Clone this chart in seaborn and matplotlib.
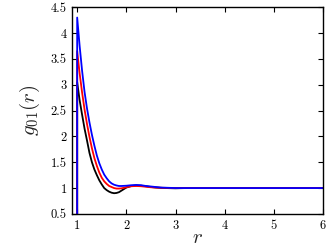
"""
Pair correlation g_01(r) for three cases, redrawn with seaborn
"""

import numpy as np
import pandas as pd
import matplotlib
matplotlib.use('Agg')
import matplotlib.pyplot as plt
import seaborn as sns

# values
r_black = [1.00, 1.00, 1.05, 1.10, 1.15, 1.20, 1.25, 1.30, 1.35, 1.40, 1.45, 1.50,
           1.55, 1.60, 1.65, 1.70, 1.75, 1.80, 1.85, 1.90, 1.95, 2.00, 2.10, 2.20,
           2.30, 2.40, 2.50, 2.60, 2.80, 3.00, 3.20, 6.00]
g_black = [0.00, 3.05, 2.70, 2.42, 2.15, 1.92, 1.68, 1.50, 1.36, 1.25, 1.15, 1.07,
           1.00, 0.96, 0.93, 0.91, 0.90, 0.905, 0.92, 0.95, 0.98, 1.01, 1.04, 1.05,
           1.045, 1.035, 1.02, 1.01, 1.00, 0.995, 1.00, 1.00]

r_red = [1.00, 1.00, 1.05, 1.10, 1.15, 1.20, 1.25, 1.30, 1.35, 1.40, 1.45, 1.50,
         1.55, 1.60, 1.65, 1.70, 1.75, 1.80, 1.85, 1.90, 2.00, 2.10, 2.20, 2.30,
         2.40, 2.50, 2.70, 3.00, 6.00]
g_red = [0.00, 3.65, 3.22, 2.85, 2.52, 2.24, 1.99, 1.77, 1.58, 1.43, 1.30, 1.20,
         1.13, 1.08, 1.04, 1.02, 1.00, 0.99, 0.99, 0.995, 1.015, 1.035, 1.04, 1.035,
         1.025, 1.015, 1.005, 1.00, 1.00]

r_blue = [1.00, 1.00, 1.05, 1.10, 1.15, 1.20, 1.25, 1.30, 1.35, 1.40, 1.45, 1.50,
          1.55, 1.60, 1.65, 1.70, 1.75, 1.80, 1.85, 1.90, 2.00, 2.10, 2.20, 2.30,
          2.40, 2.50, 2.70, 3.00, 6.00]
g_blue = [0.00, 4.30, 3.75, 3.27, 2.86, 2.54, 2.27, 2.03, 1.82, 1.63, 1.48, 1.36,
          1.26, 1.19, 1.13, 1.09, 1.065, 1.05, 1.04, 1.04, 1.045, 1.055, 1.06, 1.055,
          1.04, 1.03, 1.01, 1.00, 1.00]

x_ticks = [1, 2, 3, 4, 5, 6]
y_ticks = [0.5, 1, 1.5, 2, 2.5, 3, 3.5, 4, 4.5]
y_tick_labels = ['0.5', '1', '1.5', '2', '2.5', '3', '3.5', '4', '4.5']

COLORS = {'black': 'black', 'red': 'red', 'blue': 'blue'}

sns.set_theme(style='ticks')
plt.rcParams['font.family'] = ['cmr10', 'DejaVu Serif']
plt.rcParams['mathtext.fontset'] = 'cm'
plt.rcParams['axes.formatter.use_mathtext'] = True
plt.rcParams['axes.unicode_minus'] = False

frames = []
for name, r, g in [('black', r_black, g_black), ('red', r_red, g_red), ('blue', r_blue, g_blue)]:
    frames.append(pd.DataFrame({'r': r, 'g': g, 'series': name}))
df = pd.concat(frames, ignore_index=True)

fig = plt.figure(figsize=(3.33, 2.49), dpi=100)
ax = fig.add_axes([0.217, 0.141, 0.753, 0.830])

sns.lineplot(data=df, x='r', y='g', hue='series', palette=COLORS,
             estimator=None, sort=False, linewidth=1.3, legend=False, ax=ax)

ax.set_xlim(0.9, 6)
ax.set_ylim(0.5, 4.5)
ax.set_xticks(x_ticks)
ax.set_xticklabels([str(t) for t in x_ticks])
ax.set_yticks(y_ticks)
ax.set_yticklabels(y_tick_labels)
ax.tick_params(direction='in', top=True, right=True, length=3.5, width=0.8,
               labelsize=9, colors='black', pad=4)
for side in ax.spines.values():
    side.set_linewidth(1.0)
    side.set_color('black')

ax.set_xlabel('$r$', fontsize=15, labelpad=-2)
ax.set_ylabel('$g_{01}(r)$', fontsize=15, labelpad=6)

fig.savefig('out.png', dpi=100)
plt.close(fig)
